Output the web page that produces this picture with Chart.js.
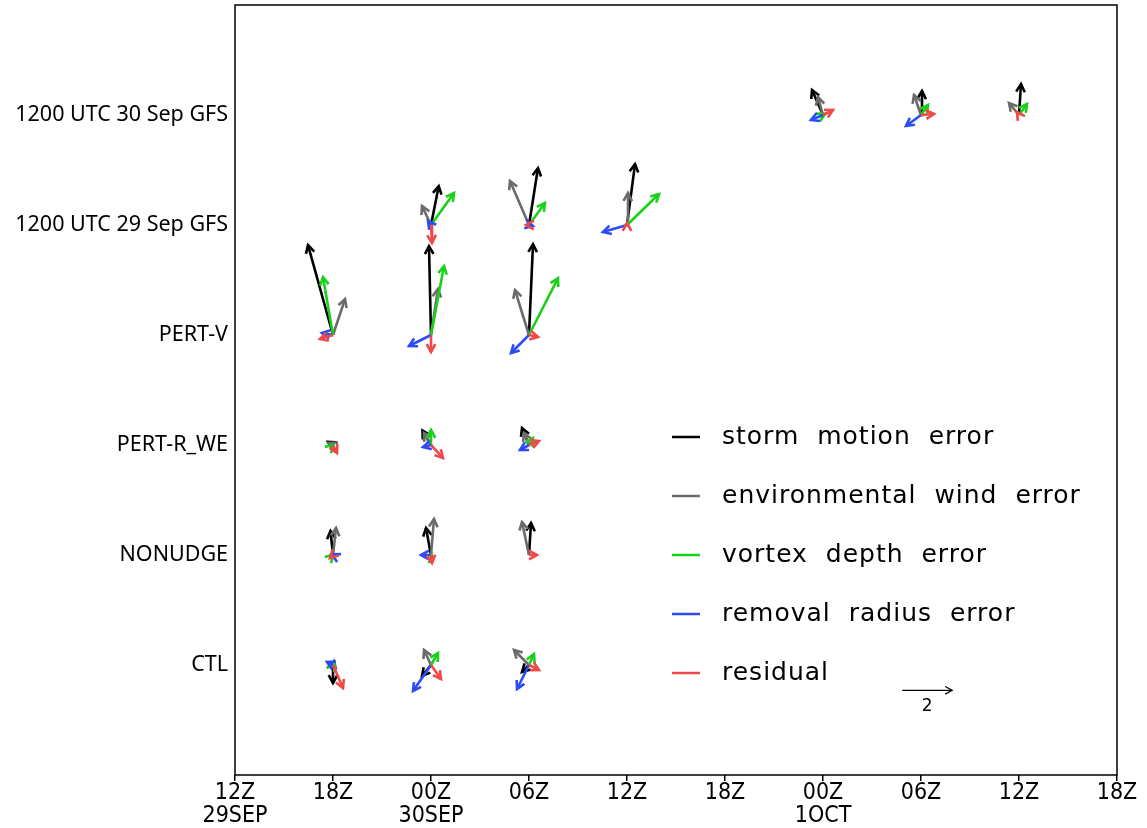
<!DOCTYPE html>
<html>
<head>
<meta charset="utf-8">
<script src="https://cdn.jsdelivr.net/npm/chart.js@4.4.1/dist/chart.umd.min.js"></script>
<style>
  body { margin: 0; background: #fff; }
  #box { width: 1147px; height: 828px; }
</style>
</head>
<body>
<div id="box"><canvas id="grafico" width="1147" height="828"></canvas></div>
<script>
// x ticks: hours after 12Z 29SEP
var xTickLabels = [['12Z', '29SEP'], ['18Z'], ['00Z', '30SEP'], ['06Z'], ['12Z'], ['18Z'], ['00Z', '1OCT'], ['06Z'], ['12Z'], ['18Z']];
var rowNames = ['CTL', 'NONUDGE', 'PERT-R_WE', 'PERT-V', '1200 UTC 29 Sep GFS', '1200 UTC 30 Sep GFS'];

// one entry per arrow group: time (hours) and row
var groupTime = [6, 12, 18, 6, 12, 18, 6, 12, 18, 6, 12, 18, 12, 18, 24, 36, 42, 48];
var groupRow = [1, 1, 1, 2, 2, 2, 3, 3, 3, 4, 4, 4, 5, 5, 5, 6, 6, 6];

// vector components (u east, v north)
var stormU = [0, -0.36, -0.28, -0.1, -0.2, 0.08, -0.2, -0.34, -0.28, -1.0, -0.08, 0.16, 0.31, 0.36, 0.32, -0.44, 0.04, 0.08];
var stormV = [-0.72, -0.44, -0.28, 0.96, 1.08, 1.28, 0.12, 0.58, 0.68, 3.6, 3.56, 3.64, 1.56, 2.28, 2.44, 1.0, 0.96, 1.24];
var envU = [0.04, -0.28, -0.6, 0.12, 0.12, -0.28, -0.16, -0.28, -0.2, 0.48, 0.28, -0.56, -0.36, -0.76, 0.04, -0.2, -0.28, -0.4];
var envV = [0.16, 0.6, 0.6, 1.08, 1.44, 1.32, 0.08, 0.48, 0.48, 1.44, 1.84, 1.8, 0.76, 1.76, 1.28, 0.72, 0.8, 0.48];
var depthU = [0.04, 0.28, 0.2, 0.02, 0.02, 0.02, 0.02, 0, 0.16, -0.4, 0.52, 1.16, 0.92, 0.64, 1.28, 0.08, 0.28, 0.32];
var depthV = [0.08, 0.48, 0.44, 0.02, 0.02, 0, 0.02, 0.6, 0.28, 2.32, 2.76, 2.28, 1.28, 0.88, 1.24, 0.04, 0.4, 0.44];
var radiusU = [-0.24, -0.72, -0.48, -0.04, -0.4, 0, -0.02, -0.32, -0.36, -0.44, -0.88, -0.72, -0.12, 0.16, -0.96, -0.48, -0.6, 0.02];
var radiusV = [0.12, -1.04, -0.96, 0.02, 0, 0, 0, -0.08, -0.2, 0.08, -0.44, -0.72, 0.16, -0.04, -0.28, -0.2, -0.44, 0];
var residU = [0.4, 0.4, 0.4, -0.12, 0.04, 0.32, 0.16, 0.48, 0.4, -0.52, 0, 0.36, 0.04, -0.12, 0, 0.4, 0.52, -0.08];
var residV = [-0.92, -0.56, -0.2, -0.12, -0.32, 0, -0.32, -0.52, 0.16, -0.16, -0.68, -0.08, -0.72, 0, 0.08, 0.2, 0.04, 0.12];

var legendNames = ['storm  motion  error', 'environmental  wind  error', 'vortex  depth  error', 'removal  radius  error', 'residual'];
var refVector = 2;

// one vector unit in axis units (hours / rows)
var unitX = 1.53;
var unitY = 0.227;

var colors = ['#000000', '#6b6b6b', '#19d119', '#2b4bf5', '#f04848'];

function arrowData(us, vs) {
  var pts = [];
  for (var i = 0; i < groupTime.length; i++) {
    pts.push({ x: groupTime[i], y: groupRow[i] });
    pts.push({ x: groupTime[i] + us[i] * unitX, y: groupRow[i] + vs[i] * unitY });
    pts.push({ x: groupTime[i], y: null });
  }
  return pts;
}

var comps = [[stormU, stormV], [envU, envV], [depthU, depthV], [radiusU, radiusV], [residU, residV]];
var datasets = comps.map(function (c, k) {
  return {
    label: legendNames[k],
    data: arrowData(c[0], c[1]),
    borderColor: colors[k],
    borderWidth: 2.6,
    showLine: true,
    pointRadius: 0,
    spanGaps: false,
    head: 9,
    order: 4 - k
  };
});

// reference arrow near lower right
datasets.push({
  label: 'ref',
  data: [{ x: 40.85, y: 0.77 }, { x: 40.85 + refVector * unitX, y: 0.77 }, { x: 40.85, y: null }],
  borderColor: '#000',
  borderWidth: 1.2,
  showLine: true,
  pointRadius: 0,
  head: 8,
  order: -1
});

var arrowHeads = {
  id: 'arrowHeads',
  afterDatasetDraw: function (chart, args) {
    var meta = args.meta;
    var ds = chart.data.datasets[args.index];
    var c = chart.ctx;
    c.save();
    c.strokeStyle = ds.borderColor;
    c.lineWidth = ds.borderWidth;
    for (var i = 0; i + 1 < meta.data.length; i += 3) {
      var p0 = meta.data[i], p1 = meta.data[i + 1];
      var dx = p1.x - p0.x, dy = p1.y - p0.y;
      if (Math.sqrt(dx * dx + dy * dy) < 0.6) continue;
      var a = Math.atan2(dy, dx);
      c.beginPath();
      c.moveTo(p1.x - ds.head * Math.cos(a - 0.5), p1.y - ds.head * Math.sin(a - 0.5));
      c.lineTo(p1.x, p1.y);
      c.lineTo(p1.x - ds.head * Math.cos(a + 0.5), p1.y - ds.head * Math.sin(a + 0.5));
      c.stroke();
    }
    c.restore();
  },
  afterDraw: function (chart) {
    var c = chart.ctx;
    var area = chart.chartArea;
    var xs = chart.scales.x, ys = chart.scales.y;
    c.save();
    // frame
    c.strokeStyle = '#000';
    c.lineWidth = 1.5;
    c.strokeRect(area.left, area.top, area.right - area.left, area.bottom - area.top);
    // legend
    c.font = '25px "DejaVu Sans"';
    c.letterSpacing = '1px';
    c.textBaseline = 'middle';
    c.fillStyle = '#000';
    for (var k = 0; k < legendNames.length; k++) {
      var ly = 437 + k * 59;
      c.strokeStyle = colors[k];
      c.lineWidth = 2.5;
      c.beginPath();
      c.moveTo(672, ly);
      c.lineTo(700, ly);
      c.stroke();
      c.fillText(legendNames[k], 722, ly);
    }
    // reference label
    c.letterSpacing = '0px';
    c.font = '17px "DejaVu Sans"';
    c.textAlign = 'center';
    c.fillText(String(refVector), xs.getPixelForValue(40.85 + refVector * unitX / 2), ys.getPixelForValue(0.62));
    c.restore();
  }
};

var ctx = document.getElementById('grafico').getContext('2d');
var meuGrafico = new Chart(ctx, {
  type: 'scatter',
  data: { datasets: datasets },
  options: {
    responsive: false,
    animation: false,
    layout: { padding: { top: 5, right: 30, left: 0, bottom: 0 } },
    scales: {
      x: {
        type: 'linear',
        min: 0,
        max: 54,
        afterFit: function (s) { s.height = 53; },
        afterBuildTicks: function (s) {
          s.ticks = xTickLabels.map(function (l, i) { return { value: i * 6 }; });
        },
        ticks: {
          autoSkip: false,
          maxRotation: 0,
          padding: 1,
          color: '#000',
          font: { family: '"Liberation Sans Narrow", "DejaVu Sans Condensed", "DejaVu Sans"', size: 23, lineHeight: 1.0 },
          callback: function (v) { return xTickLabels[Math.round(v / 6)]; }
        },
        grid: { drawOnChartArea: false, drawTicks: true, tickLength: 6, color: '#000', lineWidth: 1.5 },
        border: { display: false }
      },
      y: {
        type: 'linear',
        min: 0,
        max: 7,
        afterFit: function (s) {
          s.width = 235;
          s.paddingTop = 0;
          s.paddingBottom = 0;
        },
        afterBuildTicks: function (s) {
          s.ticks = rowNames.map(function (n, i) { return { value: i + 1 }; });
        },
        ticks: {
          padding: 7,
          color: '#000',
          font: { family: '"Noto Sans"', size: 21.5 },
          callback: function (v) { return rowNames[Math.round(v) - 1]; }
        },
        grid: { display: false, drawTicks: false },
        border: { display: false }
      }
    },
    plugins: {
      legend: { display: false },
      tooltip: { enabled: false }
    }
  },
  plugins: [arrowHeads]
});
</script>
</body>
</html>
